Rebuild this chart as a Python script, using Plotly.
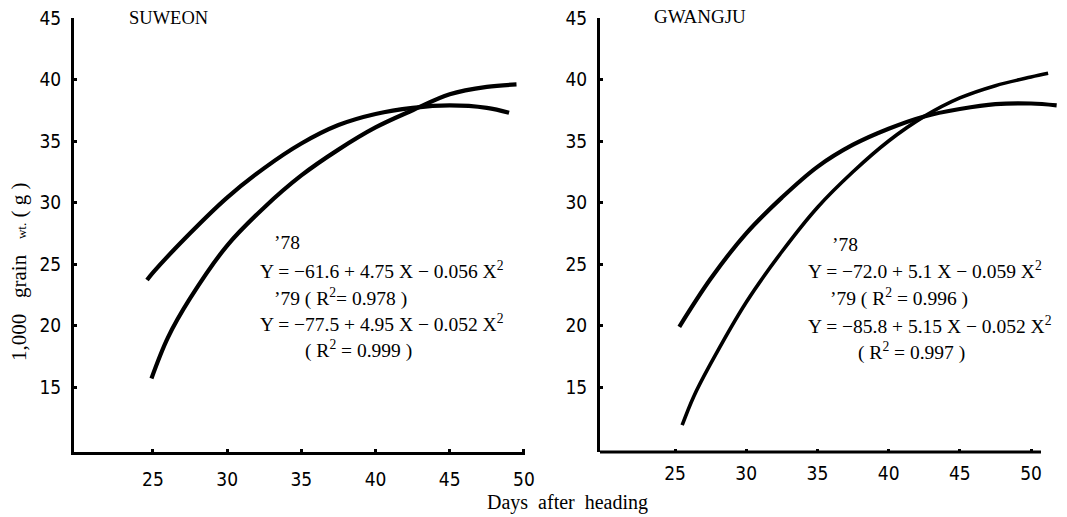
import plotly.graph_objects as go

# ---- data ----
sw_78_days = [24.6, 25, 27.5, 30, 32.5, 35, 37.5, 40, 42.5, 45, 47.5, 49]
sw_78_wt = [23.7, 24.3, 27.5, 30.4, 32.8, 34.8, 36.3, 37.2, 37.7, 37.9, 37.7, 37.3]
sw_79_days = [24.9, 26, 27.5, 30, 32.5, 35, 37.5, 40, 42.5, 45, 47.5, 49.5]
sw_79_wt = [15.7, 19.0, 22.2, 26.5, 29.6, 32.2, 34.3, 36.1, 37.5, 38.8, 39.4, 39.6]

gj_78_days = [25.3, 27.5, 30, 32.5, 35, 37.5, 40, 42.5, 45, 47.5, 50, 51.8]
gj_78_wt = [19.9, 23.8, 27.5, 30.4, 32.9, 34.7, 36.0, 37.0, 37.6, 38.0, 38.05, 37.9]
gj_79_days = [25.5, 26.3, 27.5, 30, 32.5, 35, 37.5, 40, 42.5, 45, 47.5, 50, 51.2]
gj_79_wt = [11.9, 14.2, 16.9, 21.9, 26.0, 29.6, 32.5, 35.0, 37.0, 38.5, 39.5, 40.2, 40.5]

x_ticks = [25, 30, 35, 40, 45, 50]
y_ticks = [15, 20, 25, 30, 35, 40, 45]

panel_titles = ["SUWEON", "GWANGJU"]
eq_suweon = ["’78",
             "Y = −61.6 + 4.75 X − 0.056 X<sup>2</sup>",
             "’79 ( R<sup>2</sup>= 0.978 )",
             "Y = −77.5 + 4.95 X − 0.052 X<sup>2</sup>",
             "( R<sup>2</sup> = 0.999 )"]
eq_gwangju = ["’78",
              "Y = −72.0 + 5.1 X − 0.059 X<sup>2</sup>",
              "’79 ( R<sup>2</sup> = 0.996 )",
              "Y = −85.8 + 5.15 X − 0.052 X<sup>2</sup>",
              "( R<sup>2</sup> = 0.997 )"]

W, H = 1067, 517
SERIF = "Liberation Serif, Times New Roman, serif"
NARROW = "Liberation Sans Narrow, Arial Narrow, DejaVu Sans Condensed, Liberation Sans, sans-serif"
NB = "\u00a0"

def px(x):
    return x / W

def py(y):
    return 1 - y / H

fig = go.Figure()
line_style = dict(color="black", shape="spline", smoothing=1.0)
fig.add_trace(go.Scatter(x=sw_78_days, y=sw_78_wt, mode="lines", line=dict(width=4.2, **line_style), xaxis="x", yaxis="y"))
fig.add_trace(go.Scatter(x=sw_79_days, y=sw_79_wt, mode="lines", line=dict(width=4.2, **line_style), xaxis="x", yaxis="y"))
fig.add_trace(go.Scatter(x=gj_78_days, y=gj_78_wt, mode="lines", line=dict(width=4.2, **line_style), xaxis="x2", yaxis="y2"))
fig.add_trace(go.Scatter(x=gj_79_days, y=gj_79_wt, mode="lines", line=dict(width=3.6, **line_style), xaxis="x2", yaxis="y2"))

ydom = [py(452), py(18)]
yrange = [9.72, 45]

common_x = dict(tickvals=x_ticks, ticks="inside", ticklen=3, tickwidth=3, tickcolor="black",
                showgrid=False, zeroline=False, ticklabelstandoff=8, automargin=False,
                tickfont=dict(family=NARROW, size=19, color="black"))
common_y = dict(range=yrange, domain=ydom, tickvals=y_ticks, ticks="inside", ticklen=3, tickwidth=3,
                tickcolor="black", showgrid=False, zeroline=False, showline=True, linecolor="black",
                linewidth=3, ticklabelstandoff=6, automargin=False,
                tickfont=dict(family=NARROW, size=19, color="black"))

fig.update_layout(
    template="none",
    width=W, height=H,
    margin=dict(l=0, r=0, t=0, b=0, pad=0, autoexpand=False),
    paper_bgcolor="white", plot_bgcolor="white",
    showlegend=False,
    xaxis=dict(range=[19.68, 50.1], domain=[px(74), px(525.4)], showline=True, linecolor="black",
               linewidth=3, anchor="y", **common_x),
    yaxis=dict(anchor="x", **common_y),
    xaxis2=dict(range=[19.73, 52.0], domain=[px(600), px(1059.5)], showline=False, anchor="y2", **common_x),
    yaxis2=dict(anchor="x2", **common_y),
)

# x-axis line of the right panel (stops just after the last tick)
fig.add_shape(type="line", xref="x2", yref="y2 domain", x0=19.73, x1=50.7, y0=0, y1=0,
              line=dict(color="black", width=3))

ann = []
ann.append(dict(text=panel_titles[0], x=px(127), y=py(18), xanchor="left", yanchor="middle"))
ann.append(dict(text=panel_titles[1], x=px(652), y=py(17), xanchor="left", yanchor="middle"))

left_pos = [(272, 243), (258, 270), (272, 297), (258, 323), (303, 349)]
right_pos = [(830, 244), (806, 270), (828, 297), (806, 325), (856, 351)]
for t, (x, y) in zip(eq_suweon, left_pos):
    ann.append(dict(text=t, x=px(x), y=py(y), xanchor="left", yanchor="middle"))
for t, (x, y) in zip(eq_gwangju, right_pos):
    ann.append(dict(text=t, x=px(x), y=py(y), xanchor="left", yanchor="middle"))

ann.append(dict(text=f"Days{NB*2}after{NB*2}heading", x=px(567), y=py(502), xanchor="center", yanchor="middle"))
ann.append(dict(text=f"1,000{NB*3}grain{NB*3}<span style='font-size:13px'>wt.</span>{NB}({NB}g{NB})",
                x=px(19), y=py(272), xanchor="center", yanchor="middle", textangle=-90))

for a in ann:
    a.update(xref="paper", yref="paper", showarrow=False, font=dict(family=SERIF, size=19.5, color="black"))
ann[-1]["font"] = dict(family=SERIF, size=21, color="black")
ann[-2]["font"] = dict(family=SERIF, size=20, color="black")
ann[0]["font"] = dict(family=SERIF, size=18.5, color="black")
ann[1]["font"] = dict(family=SERIF, size=19, color="black")
fig.update_layout(annotations=ann)

fig.write_html("out.html", config={"displayModeBar": False},
               post_script="document.body.style.margin='0px';")
